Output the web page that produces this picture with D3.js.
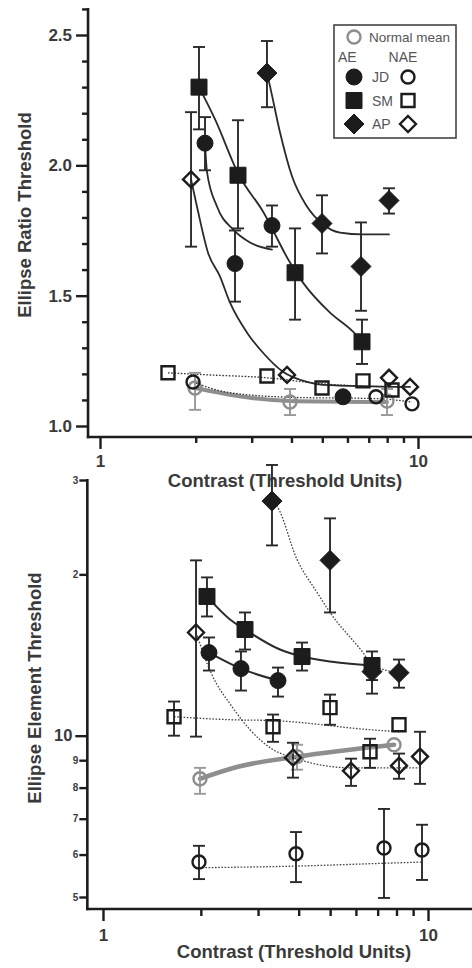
<!DOCTYPE html>
<html><head><meta charset="utf-8">
<script src="https://cdn.jsdelivr.net/npm/d3@7"></script>
<style>
html,body{margin:0;padding:0;background:#fff;}
svg{display:block;font-family:"Liberation Sans",Arial,Helvetica,sans-serif;}
</style></head><body>
<svg id="chart" width="472" height="968"></svg>
<script>
// ===== DATA =====
// points: [contrast, value, errHigh, errLow]
// ---- Top panel: Ellipse Ratio Threshold
const topJD_AE  = [[2.139,2.085,2.185,1.981],[2.658,1.623,1.750,1.477],[3.474,1.769,1.846,1.688],[5.810,1.112]];
const topSM_AE  = [[2.048,2.300,2.454,2.138],[2.716,1.962,2.173,1.758],[4.105,1.588,1.758,1.408],[6.667,1.323,1.408,1.238]];
const topAP_AE  = [[3.350,2.354,2.477,2.223],[4.990,1.777,1.885,1.662],[6.619,1.612,1.781,1.442],[8.107,1.865,1.912,1.815]];
const topJD_NAE = [[1.961,1.169],[7.378,1.112],[9.574,1.085]];
const topSM_NAE = [[1.636,1.204],[3.350,1.192],[4.990,1.146],[6.714,1.173],[8.284,1.138]];
const topAP_NAE = [[1.933,1.946,2.204,1.688],[3.873,1.196],[8.107,1.185],[9.437,1.150]];
const topNormal = [[1.99,1.146,1.204,1.062],[3.958,1.092,1.142,1.042],[7.99,1.096,1.142,1.042]];
// fitted / connecting curves: [contrast, value]
const topFitJD_AE  = [[2.139,2.085],[2.17,1.975],[2.333,1.842],[2.62,1.754],[2.963,1.704],[3.474,1.677]];
const topFitSM_AE  = [[2.048,2.300],[2.299,2.177],[2.736,1.962],[3.255,1.823],[3.958,1.627],[4.348,1.55],[5.287,1.435],[6.246,1.362],[6.667,1.323]];
const topFitAP_AE  = [[3.35,2.354],[3.424,2.304],[3.681,2.127],[4.016,1.958],[4.476,1.842],[4.99,1.777],[5.685,1.742],[6.714,1.735],[8.107,1.735]];
const topFitAP_NAE = [[1.933,1.946],[2.018,1.842],[2.186,1.665],[2.385,1.573],[2.564,1.473],[2.9,1.358],[3.255,1.281],[3.762,1.208],[4.476,1.169],[5.026,1.158],[9.437,1.15]];
const topLineSM_NAE = [[1.636,1.204],[2.2,1.196],[3.35,1.185],[4.99,1.162],[8.284,1.15]];
const topLineJD_NAE = [[1.961,1.169],[2.5,1.13],[4.0,1.11],[7.378,1.105],[9.574,1.092]];
const topFitNormal  = [[1.99,1.146],[2.385,1.127],[2.963,1.108],[3.958,1.096],[7.99,1.092]];
const topYMajor = [1.0,1.5,2.0,2.5];
const topYMinor = [1.1,1.2,1.3,1.4,1.6,1.7,1.8,1.9,2.1,2.2,2.3,2.4,2.6];
const xMajor = [1,10];
const xMinor = [2,3,4,5,6,7,8,9];

// ---- Bottom panel: Ellipse Element Threshold
const botJD_AE  = [[2.119,14.29,15.25,13.23],[2.658,13.34,14.36,12.14],[3.455,12.67,13.40,11.83]];
const botSM_AE  = [[2.089,18.19,19.74,16.69],[2.735,15.78,16.98,14.48],[4.097,14.05,14.92,13.23],[6.726,13.52,14.36,12.7]];
const botAP_AE  = [[3.311,27.4,32.0,22.65],[4.995,21.24,25.44,16.98],[6.726,13.17,13.87,11.98],[8.144,13.11,13.87,12.29]];
const botJD_NAE = [[1.974,5.81,6.23,5.40],[3.925,6.02,6.61,5.33],[7.322,6.17,7.30,4.98],[9.584,6.12,6.82,5.38]];
const botSM_NAE = [[1.654,10.85,11.58,10.0],[3.335,10.39,10.95,9.74],[4.995,11.28,11.93,10.48],[6.631,9.33,9.87,8.71],[8.144,10.48]];
const botAP_NAE = [[1.933,15.58,21.24,9.96],[3.842,9.10,9.70,8.35],[5.796,8.60,9.06,8.06],[8.144,8.79,9.26,8.31],[9.449,9.14,10.17,8.13]];
const botNormal = [[1.988,8.31,8.71,7.79],[3.953,9.14,9.62,8.64],[7.861,9.62]];
const botFitSM_AE  = [[2.089,18.19],[2.459,16.47],[2.735,15.78],[3.504,14.48],[4.097,14.05],[4.995,13.75],[6.726,13.52]];
const botFitJD_AE  = [[2.119,14.29],[2.658,13.34],[3.455,12.67]];
const botFitAP_AE  = [[3.311,27.4],[3.43,26.8],[3.953,21.33],[4.556,18.51],[4.995,16.98],[6.31,14.29],[6.726,13.57],[8.144,13.11]];
const botFitAP_NAE = [[1.933,15.58],[2.15,13.1],[2.494,11.33],[2.834,10.26],[3.335,9.42],[3.842,9.10],[5.796,8.71],[9.449,8.71]];
const botFitSM_NAE = [[1.654,10.85],[2.459,10.71],[3.335,10.67],[6.631,10.26],[8.144,10.17]];
const botFitJD_NAE = [[1.974,5.67],[3.925,5.71],[7.322,5.78],[9.584,5.81]];
const botFitNormal = [[1.988,8.31],[2.6,8.75],[3.953,9.14],[7.861,9.62]];
const botYSmall = [5,6,7,8,9,20,30];
const botYBig = [10];

const legendSubjects = ["JD","SM","AP"];
const legendShapes = ["circle","square","diamond"];

// ===== LAYOUT =====
const svg = d3.select("#chart");
const INK = "#1c1c1c", TXT = "#3a3a3a", GRAY = "#8e8e8e";

const xTop = d3.scaleLog().domain([1,10]).range([100,418]);
const yTop = d3.scaleLinear().domain([1,2.5]).range([426,35]);
const xBot = d3.scaleLog().domain([1,10]).range([103,428]);
const yBot = d3.scaleLog().domain([5,30]).range([897,480]);

function shapePath(shape, s){
  if(shape==="circle"){ const p=d3.path(); p.arc(0,0,s,0,2*Math.PI); p.closePath(); return p.toString(); }
  if(shape==="square") return `M${-s},${-s}H${s}V${s}H${-s}Z`;
  return `M0,${-s}L${s},0L0,${s}L${-s},0Z`;
}
const SIZES = {
  filled:{circle:8, square:8, diamond:10},
  open:{circle:6.5, square:6.5, diamond:8}
};

function drawCurve(g, xs, ys, data, style){
  const line = d3.line().x(d=>xs(d[0])).y(d=>ys(d[1])).curve(d3.curveMonotoneX);
  g.append("path").attr("d", line(data)).attr("fill","none")
    .attr("stroke", style.color).attr("stroke-width", style.width)
    .attr("stroke-dasharray", style.dash || null)
    .attr("stroke-linecap", style.dash ? "butt" : "round");
}
function drawErr(g, xs, ys, data, color){
  data.filter(d=>d.length>=4).forEach(d=>{
    const x = xs(d[0]);
    const eg = g.append("g").attr("stroke", color).attr("stroke-width",1.9);
    eg.append("line").attr("x1",x).attr("x2",x).attr("y1",ys(d[2])).attr("y2",ys(d[3]));
    eg.append("line").attr("x1",x-6).attr("x2",x+6).attr("y1",ys(d[2])).attr("y2",ys(d[2]));
    eg.append("line").attr("x1",x-6).attr("x2",x+6).attr("y1",ys(d[3])).attr("y2",ys(d[3]));
  });
}
function drawMarks(g, xs, ys, data, shape, filled, color){
  const s = filled ? SIZES.filled[shape] : SIZES.open[shape];
  g.selectAll(null).data(data).enter().append("path")
    .attr("transform", d=>`translate(${xs(d[0])},${ys(d[1])})`)
    .attr("d", shapePath(shape, s))
    .attr("fill", filled ? color : "none")
    .attr("stroke", color)
    .attr("stroke-width", filled ? 1 : 2.4);
}
function styleAxis(g, fontSize){
  g.select(".domain").remove();
  g.selectAll("line").attr("stroke", INK).attr("stroke-width", 2.4);
  g.selectAll("text").attr("fill", TXT).attr("font-weight","bold").attr("font-size", fontSize)
    .attr("font-family",'"Liberation Sans",Arial,sans-serif');
}

// ===== TOP PANEL =====
const gT = svg.append("g");
const topLeft = xTop(0.917), topBottom = yTop(0.958);
// curves
drawCurve(gT, xTop, yTop, topFitNormal, {color:GRAY, width:4});
drawCurve(gT, xTop, yTop, topLineSM_NAE, {color:"#333", width:1.3, dash:"1.6,1.6"});
drawCurve(gT, xTop, yTop, topLineJD_NAE, {color:"#333", width:1.3, dash:"1.6,1.6"});
drawCurve(gT, xTop, yTop, topFitAP_NAE, {color:"#2a2a2a", width:1.8});
drawCurve(gT, xTop, yTop, topFitJD_AE, {color:"#2a2a2a", width:1.8});
drawCurve(gT, xTop, yTop, topFitSM_AE, {color:"#2a2a2a", width:1.8});
drawCurve(gT, xTop, yTop, topFitAP_AE, {color:"#2a2a2a", width:1.8});
// error bars
drawErr(gT, xTop, yTop, topNormal, "#999");
[topJD_AE, topSM_AE, topAP_AE, topJD_NAE, topSM_NAE, topAP_NAE].forEach(s=>drawErr(gT, xTop, yTop, s, "#2a2a2a"));
// markers
drawMarks(gT, xTop, yTop, topNormal, "circle", false, GRAY);
drawMarks(gT, xTop, yTop, topJD_NAE, "circle", false, INK);
drawMarks(gT, xTop, yTop, topSM_NAE, "square", false, INK);
drawMarks(gT, xTop, yTop, topAP_NAE, "diamond", false, INK);
drawMarks(gT, xTop, yTop, topJD_AE, "circle", true, INK);
drawMarks(gT, xTop, yTop, topSM_AE, "square", true, INK);
drawMarks(gT, xTop, yTop, topAP_AE, "diamond", true, INK);

// axes
gT.append("g").attr("transform",`translate(${topLeft},0)`)
  .call(d3.axisLeft(yTop).tickValues(topYMajor).tickSize(12).tickPadding(4).tickFormat(d3.format(".1f")))
  .call(g=>styleAxis(g,"17px"));
gT.append("g").attr("transform",`translate(${topLeft},0)`)
  .call(d3.axisLeft(yTop).tickValues(topYMinor).tickSize(6).tickFormat(""))
  .call(g=>styleAxis(g,"17px"));
gT.append("g").attr("transform",`translate(0,${topBottom})`)
  .call(d3.axisBottom(xTop).tickValues(xMajor).tickSize(12).tickPadding(6).tickFormat(d3.format("d")))
  .call(g=>styleAxis(g,"17px"));
gT.append("g").attr("transform",`translate(0,${topBottom})`)
  .call(d3.axisBottom(xTop).tickValues(xMinor).tickSize(6).tickFormat(""))
  .call(g=>styleAxis(g,"17px"));
gT.append("line").attr("x1",topLeft).attr("x2",topLeft).attr("y1",yTop(2.6)-1).attr("y2",topBottom+1.2)
  .attr("stroke",INK).attr("stroke-width",2.6);
gT.append("line").attr("x1",topLeft-1.2).attr("x2",472).attr("y1",topBottom).attr("y2",topBottom)
  .attr("stroke",INK).attr("stroke-width",2.6);
gT.append("text").attr("x",285).attr("y",487).attr("text-anchor","middle")
  .attr("font-size","18.5px").attr("font-weight","bold").attr("fill",TXT).text("Contrast (Threshold Units)");
gT.append("text").attr("transform","translate(31,215) rotate(-90)").attr("text-anchor","middle")
  .attr("font-size","18.5px").attr("font-weight","bold").attr("fill",TXT).text("Ellipse Ratio Threshold");

// legend
const lg = gT.append("g");
lg.append("rect").attr("x",334).attr("y",25).attr("width",122).attr("height",113)
  .attr("fill","#fff").attr("stroke","#444").attr("stroke-width",1.6);
lg.append("path").attr("transform","translate(354,37)").attr("d",shapePath("circle",6.5))
  .attr("fill","none").attr("stroke",GRAY).attr("stroke-width",2.4);
lg.append("text").attr("x",369).attr("y",42).attr("font-size","13.5px").attr("fill","#555").text("Normal mean");
lg.append("text").attr("x",338).attr("y",62).attr("font-size","14px").attr("fill","#555").text("AE");
lg.append("text").attr("x",403).attr("y",62).attr("text-anchor","middle").attr("font-size","14px").attr("fill","#555").text("NAE");
legendSubjects.forEach((name,i)=>{
  const cy = 77 + i*23.5;
  const sh = legendShapes[i];
  lg.append("path").attr("transform",`translate(354,${cy})`).attr("d",shapePath(sh, SIZES.filled[sh]))
    .attr("fill",INK).attr("stroke",INK);
  lg.append("text").attr("x",372).attr("y",cy+5).attr("font-size","14px").attr("fill","#555").text(name);
  lg.append("path").attr("transform",`translate(408,${cy})`).attr("d",shapePath(sh, SIZES.open[sh]))
    .attr("fill","none").attr("stroke",INK).attr("stroke-width",2.4);
});

// ===== BOTTOM PANEL =====
const gB = svg.append("g");
const botLeft = xBot(0.895), botBottom = 909;
drawCurve(gB, xBot, yBot, botFitNormal, {color:GRAY, width:4.5});
drawCurve(gB, xBot, yBot, botFitSM_NAE, {color:"#444", width:1.3, dash:"1.6,1.6"});
drawCurve(gB, xBot, yBot, botFitJD_NAE, {color:"#444", width:1.3, dash:"1.6,1.6"});
drawCurve(gB, xBot, yBot, botFitAP_NAE, {color:"#444", width:1.3, dash:"1.6,1.6"});
drawCurve(gB, xBot, yBot, botFitAP_AE, {color:"#444", width:1.3, dash:"1.6,1.6"});
drawCurve(gB, xBot, yBot, botFitSM_AE, {color:"#2a2a2a", width:2});
drawCurve(gB, xBot, yBot, botFitJD_AE, {color:"#2a2a2a", width:2});
drawErr(gB, xBot, yBot, botNormal, "#999");
[botJD_AE, botSM_AE, botAP_AE, botJD_NAE, botSM_NAE, botAP_NAE].forEach(s=>drawErr(gB, xBot, yBot, s, "#2a2a2a"));
drawMarks(gB, xBot, yBot, botNormal, "circle", false, GRAY);
drawMarks(gB, xBot, yBot, botJD_NAE, "circle", false, INK);
drawMarks(gB, xBot, yBot, botSM_NAE, "square", false, INK);
drawMarks(gB, xBot, yBot, botAP_NAE, "diamond", false, INK);
drawMarks(gB, xBot, yBot, botJD_AE, "circle", true, INK);
drawMarks(gB, xBot, yBot, botSM_AE, "square", true, INK);
drawMarks(gB, xBot, yBot, botAP_AE, "diamond", true, INK);

gB.append("g").attr("transform",`translate(${botLeft},0)`)
  .call(d3.axisLeft(yBot).tickValues(botYSmall).tickSize(8).tickPadding(1).tickFormat(d=>d>=20? d/10 : d))
  .call(g=>styleAxis(g,"10px"));
gB.append("g").attr("transform",`translate(${botLeft},0)`)
  .call(d3.axisLeft(yBot).tickValues(botYBig).tickSize(12).tickPadding(3).tickFormat(d3.format("d")))
  .call(g=>styleAxis(g,"16.5px"));
gB.append("g").attr("transform",`translate(0,${botBottom})`)
  .call(d3.axisBottom(xBot).tickValues(xMajor).tickSize(12).tickPadding(8).tickFormat(d3.format("d")))
  .call(g=>styleAxis(g,"17px"));
gB.append("g").attr("transform",`translate(0,${botBottom})`)
  .call(d3.axisBottom(xBot).tickValues(xMinor).tickSize(7).tickFormat(""))
  .call(g=>styleAxis(g,"17px"));
gB.append("line").attr("x1",botLeft).attr("x2",botLeft).attr("y1",yBot(30)-1).attr("y2",botBottom+1.2)
  .attr("stroke",INK).attr("stroke-width",2.6);
gB.append("line").attr("x1",botLeft-1.2).attr("x2",472).attr("y1",botBottom).attr("y2",botBottom)
  .attr("stroke",INK).attr("stroke-width",2.6);
gB.append("text").attr("x",294).attr("y",958).attr("text-anchor","middle")
  .attr("font-size","18.5px").attr("font-weight","bold").attr("fill",TXT).text("Contrast (Threshold Units)");
gB.append("text").attr("transform","translate(41,688) rotate(-90)").attr("text-anchor","middle")
  .attr("font-size","18.5px").attr("font-weight","bold").attr("fill",TXT).text("Ellipse Element Threshold");
</script>
</body></html>
